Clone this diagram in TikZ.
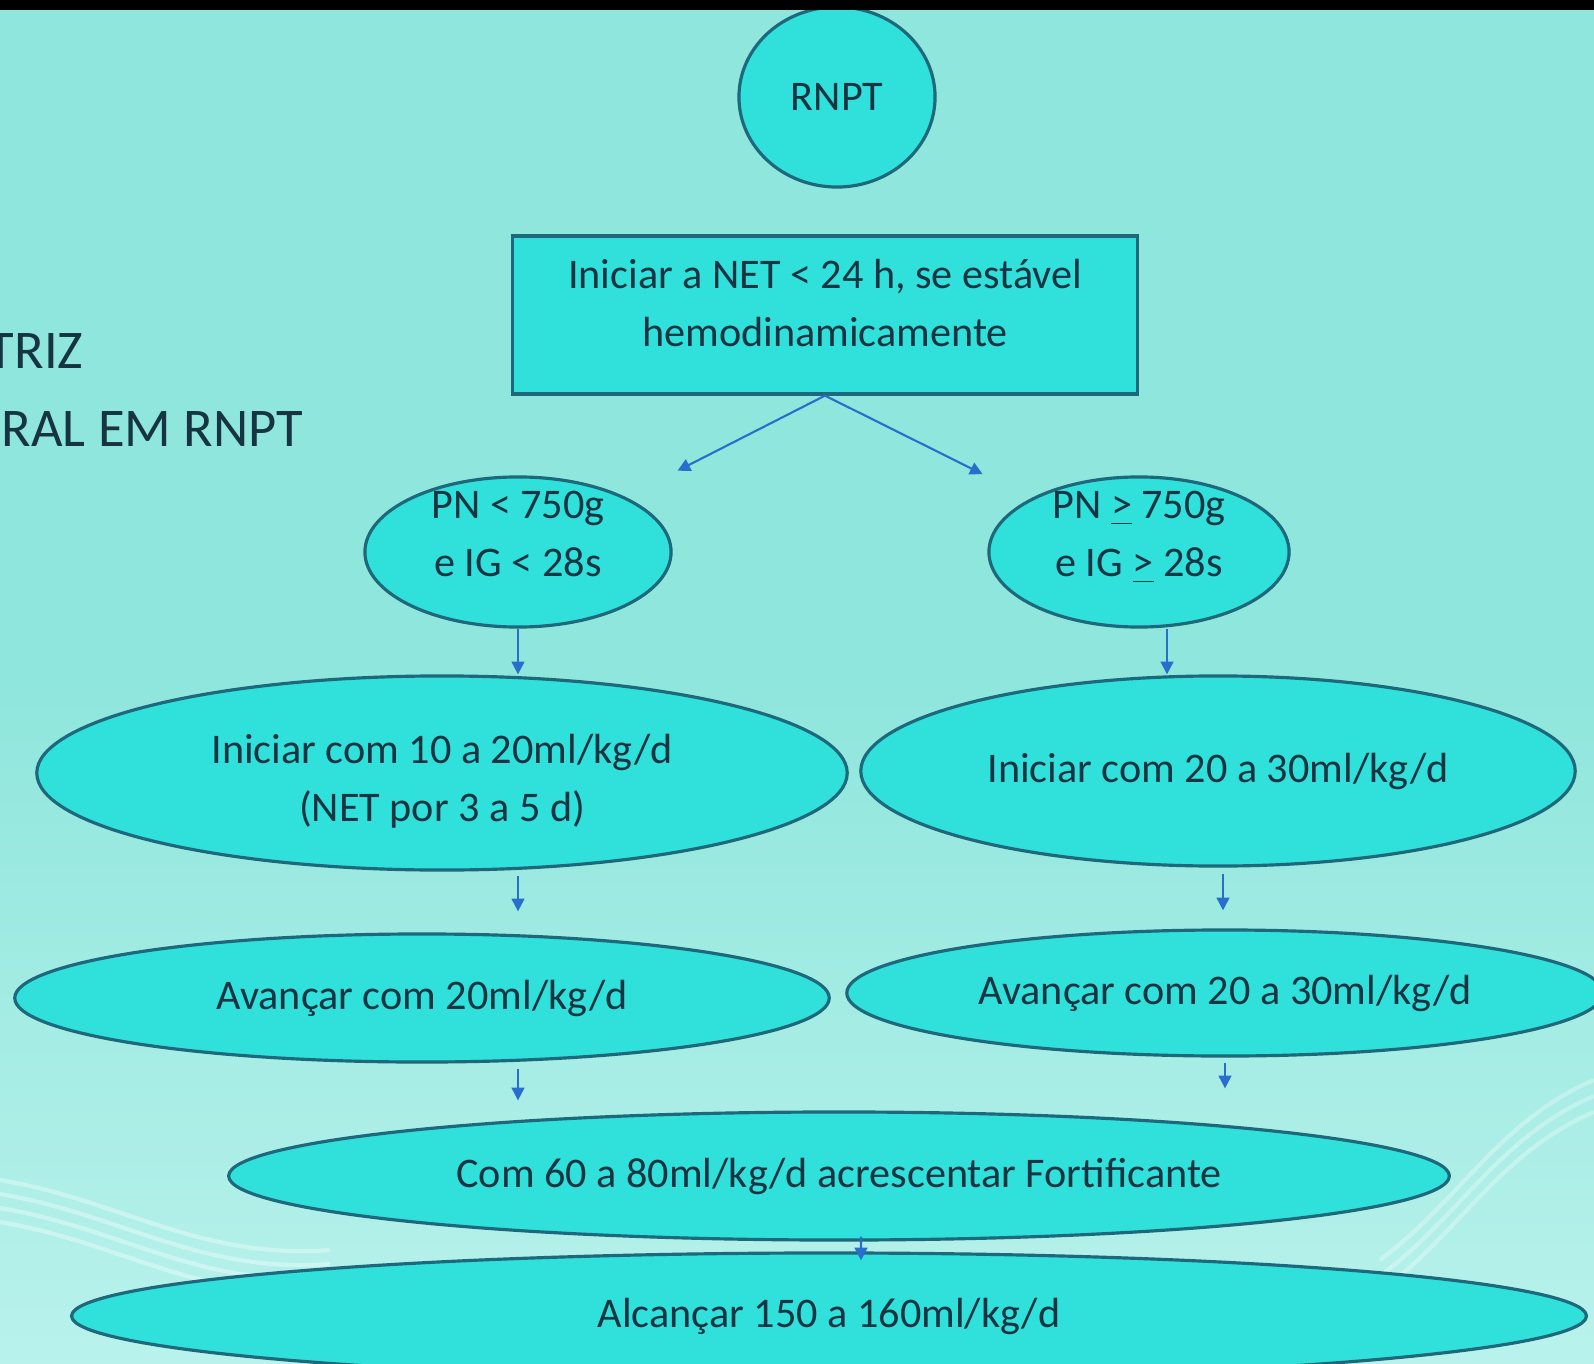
\documentclass[tikz,border=0pt]{standalone}
\usepackage{fontspec}
\setmainfont{Carlito}
\usepackage{xcolor}
\usetikzlibrary{shapes.geometric,arrows.meta,calc}
\definecolor{fundo}{RGB}{143,230,220}
\definecolor{fundoclaro}{RGB}{185,242,236}
\definecolor{caixa}{RGB}{48,224,218}
\definecolor{borda}{RGB}{29,104,122}
\definecolor{texto}{RGB}{22,52,66}
\definecolor{seta}{RGB}{40,110,205}
% texto de duas linhas deslocado na vertical
\newcommand{\linhas}[2]{\raisebox{#1}[0pt][0pt]{\begin{tabular}{@{}c@{}}#2\end{tabular}}}
\tikzset{
    bloco/.style={draw=borda, line width=0.9pt, fill=caixa, text=texto,
        font=\fontsize{12}{16.5}\selectfont, align=center, inner sep=0pt},
    elipse/.style={bloco, ellipse},
    setas/.style={draw=seta, line width=0.6pt, -{Triangle[length=3.6pt,width=3.6pt]}}
}
\begin{document}
\begin{tikzpicture}[x=0.01cm,y=-0.01cm]
    \useasboundingbox (0,0) rectangle (1594,1364);
    \clip (0,0) rectangle (1594,1364);
    % fundo do slide
    \shade[top color=fundo, bottom color=fundoclaro, middle color=fundo] (0,0) rectangle (1594,1364);
    \foreach \d in {0,14,28,42}
        \draw[white, opacity=0.35, line width=1.2pt] (0,1180+\d) .. controls (120,1200+\d) and (200,1260+\d) .. (330,1250+\d);
    \foreach \d in {0,16,32}
        \draw[white, opacity=0.3, line width=1.2pt] (1594,1080+\d) .. controls (1500,1120+\d) and (1460,1200+\d) .. (1380,1260+\d);
    % titulo cortado
    \node[anchor=base east, inner sep=0pt, text=texto, font=\fontsize{15.5}{20}\selectfont] (tit1) at (84,369) {TRIZ};
    \node[anchor=base west, inner sep=0pt, text=texto, font=\fontsize{15.5}{20}\selectfont] (tit2) at (1,446) {RAL EM RNPT};
    % fluxograma
    \node[elipse, minimum width=1.96cm, minimum height=1.80cm] (rnpt) at (837,97) {RNPT};
    \node[bloco, minimum width=6.24cm, minimum height=1.58cm] (iniciar) at (825,315)
        {\linhas{-0.4pt}{Iniciar a NET < 24 h, se estável\\hemodinamicamente}};
    \node[elipse, minimum width=3.06cm, minimum height=1.50cm] (pnmenor) at (518,552)
        {\linhas{1.5pt}{PN < 750g\\e IG < 28s}};
    \node[elipse, minimum width=3.00cm, minimum height=1.50cm] (pnmaior) at (1139,552)
        {\linhas{1.5pt}{PN \underline{>} 750g\\e IG \underline{>} 28s}};
    \node[elipse, minimum width=8.10cm, minimum height=1.94cm] (ini1) at (442,773)
        {\linhas{-5.2pt}{Iniciar com 10 a 20ml/kg/d\\(NET por 3 a 5 d)}};
    \node[elipse, minimum width=7.14cm, minimum height=1.90cm] (ini2) at (1218,771)
        {Iniciar com 20 a 30ml/kg/d};
    \node[elipse, minimum width=8.14cm, minimum height=1.28cm] (av1) at (422,998)
        {Avançar com 20ml/kg/d};
    \node[elipse, minimum width=7.56cm, minimum height=1.26cm] (av2) at (1225,993)
        {Avançar com 20 a 30ml/kg/d};
    \node[elipse, minimum width=12.20cm, minimum height=1.28cm] (fort) at (839,1176)
        {Com 60 a 80ml/kg/d acrescentar Fortificante};
    \node[elipse, minimum width=15.14cm, minimum height=1.26cm] (alc) at (829,1316)
        {Alcançar 150 a 160ml/kg/d};
    % conectores
    \draw[setas, shorten >=0.58cm] (iniciar.south) -- (pnmenor);
    \draw[setas, shorten >=0.54cm] (iniciar.south) -- (pnmaior);
    \draw[setas] (pnmenor.south) -- (pnmenor.south |- ini1.north);
    \draw[setas] ([xshift=0.28cm]pnmaior.south) -- ([xshift=0.28cm]pnmaior.south |- ini2.north);
    \draw[setas, shorten <=0.04cm, shorten >=0.21cm] (pnmenor.south |- ini1.south) -- (pnmenor.south |- av1.north);
    \draw[setas, shorten <=0.06cm, shorten >=0.18cm] ([xshift=0.05cm]ini2.south) -- ([xshift=0.05cm]ini2.south |- av2.north);
    \draw[setas, shorten <=0.05cm, shorten >=0.10cm] (pnmenor.south |- av1.south) -- (pnmenor.south |- fort.north);
    \draw[setas, shorten <=0.05cm, shorten >=0.08cm] (av2.south) -- ($(av2.south |- fort.north)+(0,-14)$);
    \draw[setas] ([xshift=0.22cm,yshift=0.05cm]fort.south) -- ([xshift=0.32cm,yshift=-0.09cm]alc.north);
    % faixa preta do topo
    \fill[black] (0,0) rectangle (1594,10);
\end{tikzpicture}
\end{document}
